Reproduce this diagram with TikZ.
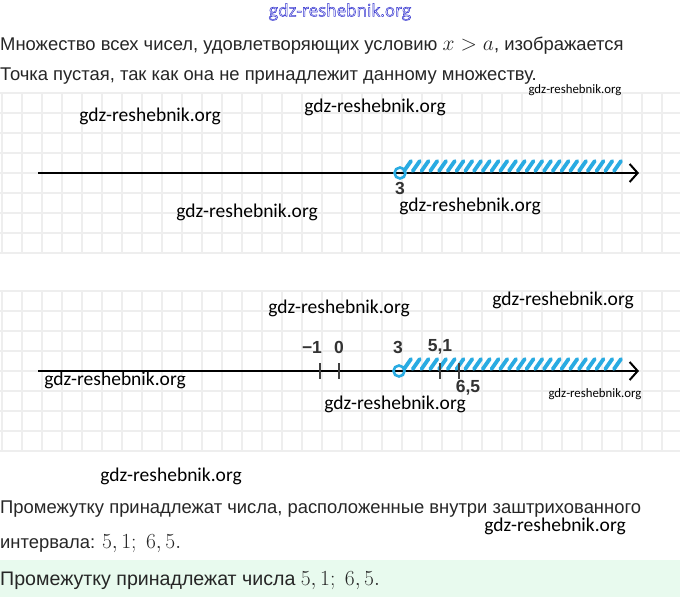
\RequirePackage{fix-cm}
\documentclass[tikz,border=0pt]{standalone}
\usepackage{fontspec}
\setmainfont{Liberation Sans}
\newfontfamily\wmfont{Carlito}
\newfontfamily\topmarkfont{Open Sans}
\usepackage{xcolor}
\usepackage{tikz}
\usetikzlibrary{arrows.meta,positioning}

\definecolor{hatchblue}{HTML}{29ABE2}
\definecolor{gridgray}{HTML}{EEEEEE}
\definecolor{textgray}{HTML}{262626}
\definecolor{mint}{HTML}{E8FAEE}
\definecolor{markblue}{HTML}{3535D0}
\newcommand{\mathpart}[1]{{\fontsize{21.5}{22}\selectfont$#1$}}

\begin{document}
\begin{tikzpicture}[x=1pt,y=-1pt]
\tikzstyle{gridline}=[draw=gridgray, line width=1.2pt]
\tikzstyle{axis}=[line width=2.6pt, -{Straight Barb[length=8pt,width=18pt,line width=2pt]}]
\tikzstyle{hatch}=[draw=hatchblue, line width=3.8pt, line cap=round]
\tikzstyle{hole}=[circle, draw=hatchblue, line width=2.6pt, minimum size=11pt, inner sep=0pt]
\tikzstyle{tick}=[draw=black!75, line width=2.4pt]
\tikzstyle{numlabel}=[font=\bfseries\fontsize{17.5}{17.5}\selectfont, text=black!80, inner sep=0pt]
\tikzstyle{body}=[font=\fontsize{18.4}{21}\selectfont, text=textgray, anchor=base west, inner sep=0pt]
\tikzstyle{wm}=[font=\wmfont\fontsize{19.5}{20}\selectfont, inner sep=0pt]
\tikzstyle{wmsmall}=[font=\wmfont\fontsize{12.8}{13}\selectfont, inner sep=0pt]
\tikzstyle{wmtop}=[font=\topmarkfont\fontsize{17}{17}\selectfont, text=markblue, inner sep=0pt]
  \useasboundingbox (0,0) rectangle (680,597);
  \fill[white] (0,0) rectangle (680,597);
  \fill[mint] (0,560) rectangle (680,597);
  % squared paper behind both number lines
  \foreach \y in {93,113,...,253} \draw[gridline] (0,\y) -- (680,\y);
  \foreach \x in {2,22,...,662} \draw[gridline] (\x,93) -- (\x,253);
  \foreach \y in {291,311,...,451} \draw[gridline] (0,\y) -- (680,\y);
  \foreach \x in {2,22,...,662} \draw[gridline] (\x,291) -- (\x,451);

  % texts
  \node[wmtop] (topmark) at (340,12) {\special{pdf:literal direct 1 Tr 0.5 w}gdz-reshebnik.org\special{pdf:literal direct 0 Tr}};
  \node[body] (lineone) at (0,50) {Множество всех чисел, удовлетворяющих условию \mathpart{x > a}, изображается};
  \node[body] (linetwo) at (0,80) {Точка пустая, так как она не принадлежит данному множеству.};
  \node[body] (linethree) at (0,513) {Промежутку принадлежат числа, расположенные внутри заштрихованного};
  \node[body] (linefour) at (0,548) {интервала: \mathpart{5,1;\ 6,5.}};
  \node[body, font=\fontsize{19.6}{22}\selectfont] (answer) at (0,585) {Промежутку принадлежат числа \mathpart{5,1;\ 6,5.}};

  % first number line: x > 3
  \coordinate (axisAstart) at (38,173);
  \coordinate (axisAend) at (639,173);
  \draw[axis] (axisAstart) -- (axisAend);
  \foreach \x in {404,412.75,...,614} \draw[hatch] (\x,171) -- ++(7,-10);
  \node[hole] (holeA) at (400,173) {};
  \node[numlabel, below=2pt of holeA] (labAthree) {3};

  % second number line with the points
  \coordinate (axisBstart) at (38,371);
  \coordinate (axisBend) at (639,371);
  \draw[axis] (axisBstart) -- (axisBend);
  \foreach \x in {404,412.75,...,614} \draw[hatch] (\x,369) -- ++(7,-10);
  \foreach \x/\n in {320/mone, 339/zero, 440/fiveone, 459/sixfive} {
    \coordinate (tick\n) at (\x,371);
    \draw[tick] (tick\n) ++(0,-8) -- ++(0,16);
  }
  \node[hole] (holeB) at (399,371) {};
  \node[numlabel] (labBmone) at (312,347) {−1};
  \node[numlabel] (labBzero) at (339,347) {0};
  \node[numlabel] (labBthree) at (398,347) {3};
  \node[numlabel] (labBfiveone) at (440,347) {5,1};
  \node[numlabel] (labBsixfive) at (468,388) {6,5};

  % watermarks
  \node[wmsmall] (wmone) at (575,90) {gdz-reshebnik.org};
  \node[wm] (wmtwo) at (150,116) {gdz-reshebnik.org};
  \node[wm] (wmthree) at (375,107) {gdz-reshebnik.org};
  \node[wm] (wmfour) at (247,212) {gdz-reshebnik.org};
  \node[wm] (wmfive) at (470,206) {gdz-reshebnik.org};
  \node[wm] (wmsix) at (339,308) {gdz-reshebnik.org};
  \node[wm] (wmseven) at (563,300) {gdz-reshebnik.org};
  \node[wm] (wmeight) at (115,380) {gdz-reshebnik.org};
  \node[wm] (wmnine) at (395,404) {gdz-reshebnik.org};
  \node[wmsmall] (wmten) at (595,394) {gdz-reshebnik.org};
  \node[wm] (wmeleven) at (171,476) {gdz-reshebnik.org};
  \node[wm] (wmtwelve) at (555,526) {gdz-reshebnik.org};
\end{tikzpicture}
\end{document}
